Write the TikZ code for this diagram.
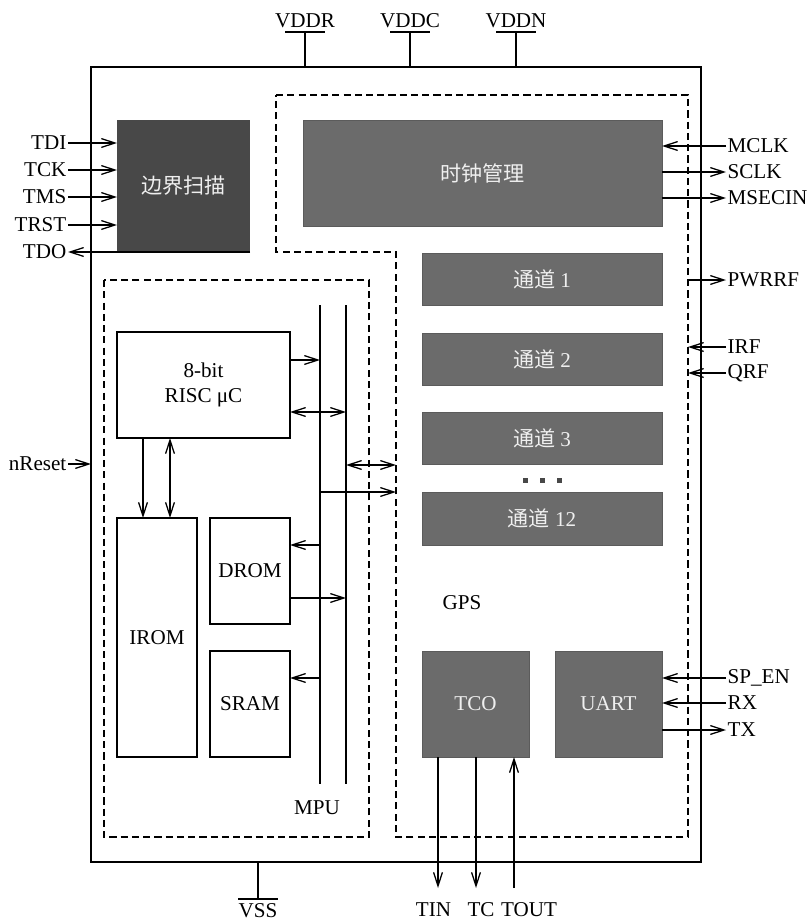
\documentclass[tikz,border=0pt]{standalone}
\usepackage{fontspec}
\setmainfont{Liberation Serif}
\newfontfamily\cjk{Noto Sans CJK SC}
\usepackage{tikz}
\usetikzlibrary{positioning,calc,arrows.meta}
\definecolor{ScanGray}{HTML}{484848}
\definecolor{BlockGray}{HTML}{6B6B6B}
\definecolor{BlockText}{HTML}{EFEFEF}

\tikzset{
  sz/.style 2 args={minimum width=#1*0.025cm, minimum height=#2*0.025cm},
  blk/.style={inner sep=0pt, outer sep=0pt, font=\fontsize{15}{18}\selectfont},
  wblk/.style={blk, draw, line width=0.9pt, fill=white, align=center},
  gblk/.style={blk, fill=BlockGray, draw=BlockGray!85!black, line width=0.4pt, text=BlockText},
  pinlbl/.style={inner sep=1pt, font=\fontsize{15}{18}\selectfont},
  sig/.style={line width=0.9pt, -{Straight Barb[length=3.4mm,width=2.2mm]}},
  sigback/.style={line width=0.9pt, {Straight Barb[length=3.4mm,width=2.2mm]}-},
  dsig/.style={line width=0.9pt, {Straight Barb[length=3.4mm,width=2.2mm]}-{Straight Barb[length=3.4mm,width=2.2mm]}},
  region/.style={line width=0.8pt, dash pattern=on 5pt off 3pt},
}

\begin{document}
\begin{tikzpicture}[x=0.025cm, y=-0.025cm]
  \useasboundingbox (0,0) rectangle (809,922);

  % chip outline
  \node[wblk, sz={610}{795}] (chip) at (396,464.5) {};

  % supply pins
  \foreach \nm/\xx in {VDDR/305, VDDC/410, VDDN/516} {
    \coordinate (pin-\nm) at (\xx,32);
    \draw[line width=0.9pt] (pin-\nm) -- (pin-\nm |- chip.north);
    \draw[line width=0.9pt] ($(pin-\nm)+(-20,0)$) -- ($(pin-\nm)+(20,0)$);
    \node[pinlbl, anchor=base] at (\xx,27) {\nm};
  }
  \coordinate (pin-VSS) at (258,899);
  \draw[line width=0.9pt] (pin-VSS |- chip.south) -- (pin-VSS);
  \draw[line width=0.9pt] ($(pin-VSS)+(-20,0)$) -- ($(pin-VSS)+(20,0)$);
  \node[pinlbl, anchor=base] (vss) at (258,917) {VSS};

  % dashed regions
  \draw[region] (276,95) -- (688,95) -- (688,837) -- (396,837) -- (396,252) -- (276,252) -- cycle;
  \draw[region] (104,280) rectangle (369,837);
  \coordinate (gpsedge) at (688,95);
  \coordinate (gpsin) at (396,252);
  \node[pinlbl] (gpslbl) at (462,603) {GPS};
  \node[pinlbl] (mpulbl) at (317,808) {MPU};

  % boundary scan
  \node[blk, fill=ScanGray, text=BlockText, sz={133}{132}] (scan) at (183.5,186) {\cjk 边界扫描};
  \foreach \nm/\yy in {TDI/143, TCK/170, TMS/197, TRST/225} {
    \node[pinlbl, anchor=east] (pin-\nm) at (68,\yy) {\nm};
    \draw[sig] (pin-\nm.east) -- (pin-\nm.east -| scan.west);
  }
  \node[pinlbl, anchor=east] (tdo) at (68,252) {TDO};
  \draw[sig] (scan.south east) -- (scan.south east -| tdo.east);
  \node[pinlbl, anchor=east] (nreset) at (68,464) {nReset};
  \draw[sig] (nreset.east) -- (nreset.east -| chip.west);

  % GPS blocks
  \node[gblk, sz={359}{106}] (clk) at (482.5,173) {\cjk 时钟管理};
  \node[gblk, sz={240}{52}] (ch1) at (542,279) {{\cjk 通道} 1};
  \node[gblk, sz={240}{52}] (ch2) at (542,359) {{\cjk 通道} 2};
  \node[gblk, sz={240}{52}] (ch3) at (542,438) {{\cjk 通道} 3};
  \node[gblk, sz={240}{53}] (ch12) at (542,518.5) {{\cjk 通道} 12};
  \foreach \xx in {525,542,559}
    \fill[ScanGray] (\xx-2.5,477.5) rectangle ++(5,5);
  \node[gblk, sz={107}{106}] (tco) at (475.5,704) {TCO};
  \node[gblk, sz={107}{106}] (uart) at (608.5,704) {UART};

  % right side pins
  \node[pinlbl, anchor=west] (mclk) at (726,146) {MCLK};
  \draw[sig] (mclk.west) -- (mclk.west -| clk.east);
  \node[pinlbl, anchor=west] (sclk) at (726,172) {SCLK};
  \draw[sig] (sclk.west -| clk.east) -- (sclk.west);
  \node[pinlbl, anchor=west] (msecin) at (726,198) {MSECIN};
  \draw[sig] (msecin.west -| clk.east) -- (msecin.west);
  \node[pinlbl, anchor=west] (pwrrf) at (726,280) {PWRRF};
  \draw[sig] (pwrrf.west -| gpsedge) -- (pwrrf.west);
  \node[pinlbl, anchor=west] (irf) at (726,347) {IRF};
  \draw[sig] (irf.west) -- (irf.west -| gpsedge);
  \node[pinlbl, anchor=west] (qrf) at (726,373) {QRF};
  \draw[sig] (qrf.west) -- (qrf.west -| gpsedge);
  \node[pinlbl, anchor=west] (spen) at (726,678) {SP\_EN};
  \draw[sig] (spen.west) -- (spen.west -| uart.east);
  \node[pinlbl, anchor=west] (rx) at (726,703) {RX};
  \draw[sig] (rx.west) -- (rx.west -| uart.east);
  \node[pinlbl, anchor=west] (tx) at (726,730) {TX};
  \draw[sig] (tx.west -| uart.east) -- (tx.west);

  % timer pins
  \coordinate (tinEnd) at (438,888);
  \coordinate (tcEnd) at (476,888);
  \coordinate (toutEnd) at (514,888);
  \draw[sig] (tinEnd |- tco.south) -- (tinEnd);
  \draw[sig] (tcEnd |- tco.south) -- (tcEnd);
  \draw[sig] (toutEnd) -- (toutEnd |- tco.south);
  \node[pinlbl, anchor=base] (tin) at (433.5,916) {TIN};
  \node[pinlbl, anchor=base] (tc) at (481,916) {TC};
  \node[pinlbl, anchor=base] (tout) at (529,916) {TOUT};

  % MPU
  \node[wblk, sz={173}{106}] (risc) at (203.5,385) {8-bit\\RISC μC};
  \node[wblk, sz={80}{239}] (irom) at (157,637.5) {IROM};
  \node[wblk, sz={80}{106}] (drom) at (250,571) {DROM};
  \node[wblk, sz={80}{106}] (sram) at (250,704) {SRAM};

  \coordinate (bus1) at (320,305);
  \coordinate (bus2) at (346,305);
  \coordinate (busend) at (0,784);
  \draw[line width=0.9pt] (bus1) -- (bus1 |- busend);
  \draw[line width=0.9pt] (bus2) -- (bus2 |- busend);

  \draw[sig] ($(risc.east)+(0,-25)$) coordinate (t) -- (t -| bus1);
  \draw[dsig] ($(risc.east)+(0,27)$) coordinate (t) -- (t -| bus2);
  \path ($(irom.north)+(-14,0)$) coordinate (ra) ($(irom.north)+(13,0)$) coordinate (rb);
  \draw[sig] (ra |- risc.south) -- (ra);
  \draw[dsig] (rb |- risc.south) -- (rb);

  \coordinate (lvA) at (0,465);
  \coordinate (lvB) at (0,492);
  \draw[dsig] (bus2 |- lvA) -- (gpsin |- lvA);
  \draw[sig] (bus1 |- lvB) -- (gpsin |- lvB);

  \draw[sigback] ($(drom.east)+(0,-26)$) coordinate (t) -- (t -| bus1);
  \draw[sig] ($(drom.east)+(0,27)$) coordinate (t) -- (t -| bus2);
  \draw[sigback] ($(sram.east)+(0,-26)$) coordinate (t) -- (t -| bus1);
\end{tikzpicture}
\end{document}
